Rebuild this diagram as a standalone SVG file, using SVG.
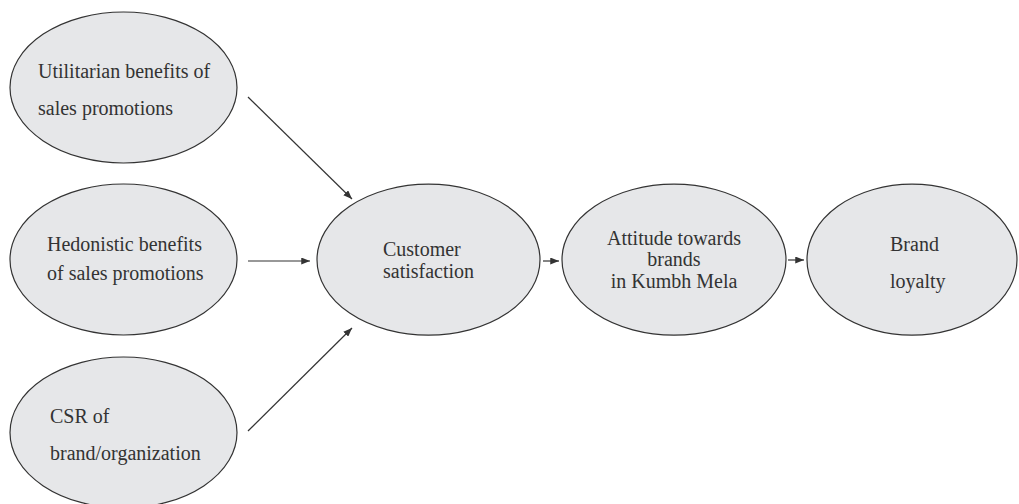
<svg xmlns="http://www.w3.org/2000/svg" width="1019" height="504" viewBox="0 0 1019 504">
<style>
.n ellipse{fill:#e6e7e9;stroke:#333;stroke-width:1.2}
.t{font-family:'Liberation Serif','Times New Roman',serif;font-size:20px;fill:#333}
.c line{stroke:#333;stroke-width:1.2;marker-end:url(#ah)}
</style>
<defs>
<marker id="ah" viewBox="0 0 10 8" refX="10" refY="4" markerWidth="9" markerHeight="7" markerUnits="userSpaceOnUse" orient="auto">
<path d="M0,0L10,4L0,8z" fill="#333"/>
</marker>
</defs>
<rect width="1019" height="504" fill="#fff"/>
<g id="utilitarian" class="n">
<ellipse cx="123.5" cy="87.5" rx="113.5" ry="75.5"/>
<text class="t" x="38" y="78">Utilitarian benefits of</text>
<text class="t" x="38" y="115">sales promotions</text>
</g>
<g id="hedonistic" class="n">
<ellipse cx="123.5" cy="259.5" rx="113.5" ry="75.5"/>
<text class="t" x="47" y="251">Hedonistic benefits</text>
<text class="t" x="47" y="280">of sales promotions</text>
</g>
<g id="csr" class="n">
<ellipse cx="123.5" cy="432.5" rx="113.5" ry="75.5"/>
<text class="t" x="50" y="423">CSR of</text>
<text class="t" x="50" y="460">brand/organization</text>
</g>
<g id="satisfaction" class="n">
<ellipse cx="428.5" cy="259.7" rx="111.5" ry="75.5"/>
<text class="t" x="383" y="256">Customer</text>
<text class="t" x="383" y="278">satisfaction</text>
</g>
<g id="attitude" class="n">
<ellipse cx="674" cy="259.7" rx="112" ry="75.5"/>
<text class="t" x="674" y="245" text-anchor="middle">Attitude towards</text>
<text class="t" x="674" y="266" text-anchor="middle">brands</text>
<text class="t" x="674" y="288" text-anchor="middle">in Kumbh Mela</text>
</g>
<g id="loyalty" class="n">
<ellipse cx="912" cy="259.7" rx="105" ry="75.5"/>
<text class="t" x="890" y="251">Brand</text>
<text class="t" x="890" y="288">loyalty</text>
</g>
<g id="connectors" class="c">
<line x1="248" y1="97" x2="352" y2="199"/>
<line x1="248" y1="261" x2="310" y2="261"/>
<line x1="248" y1="431" x2="352" y2="328"/>
<line x1="543" y1="261" x2="559" y2="261"/>
<line x1="788" y1="260" x2="804" y2="260"/>
</g>
</svg>
